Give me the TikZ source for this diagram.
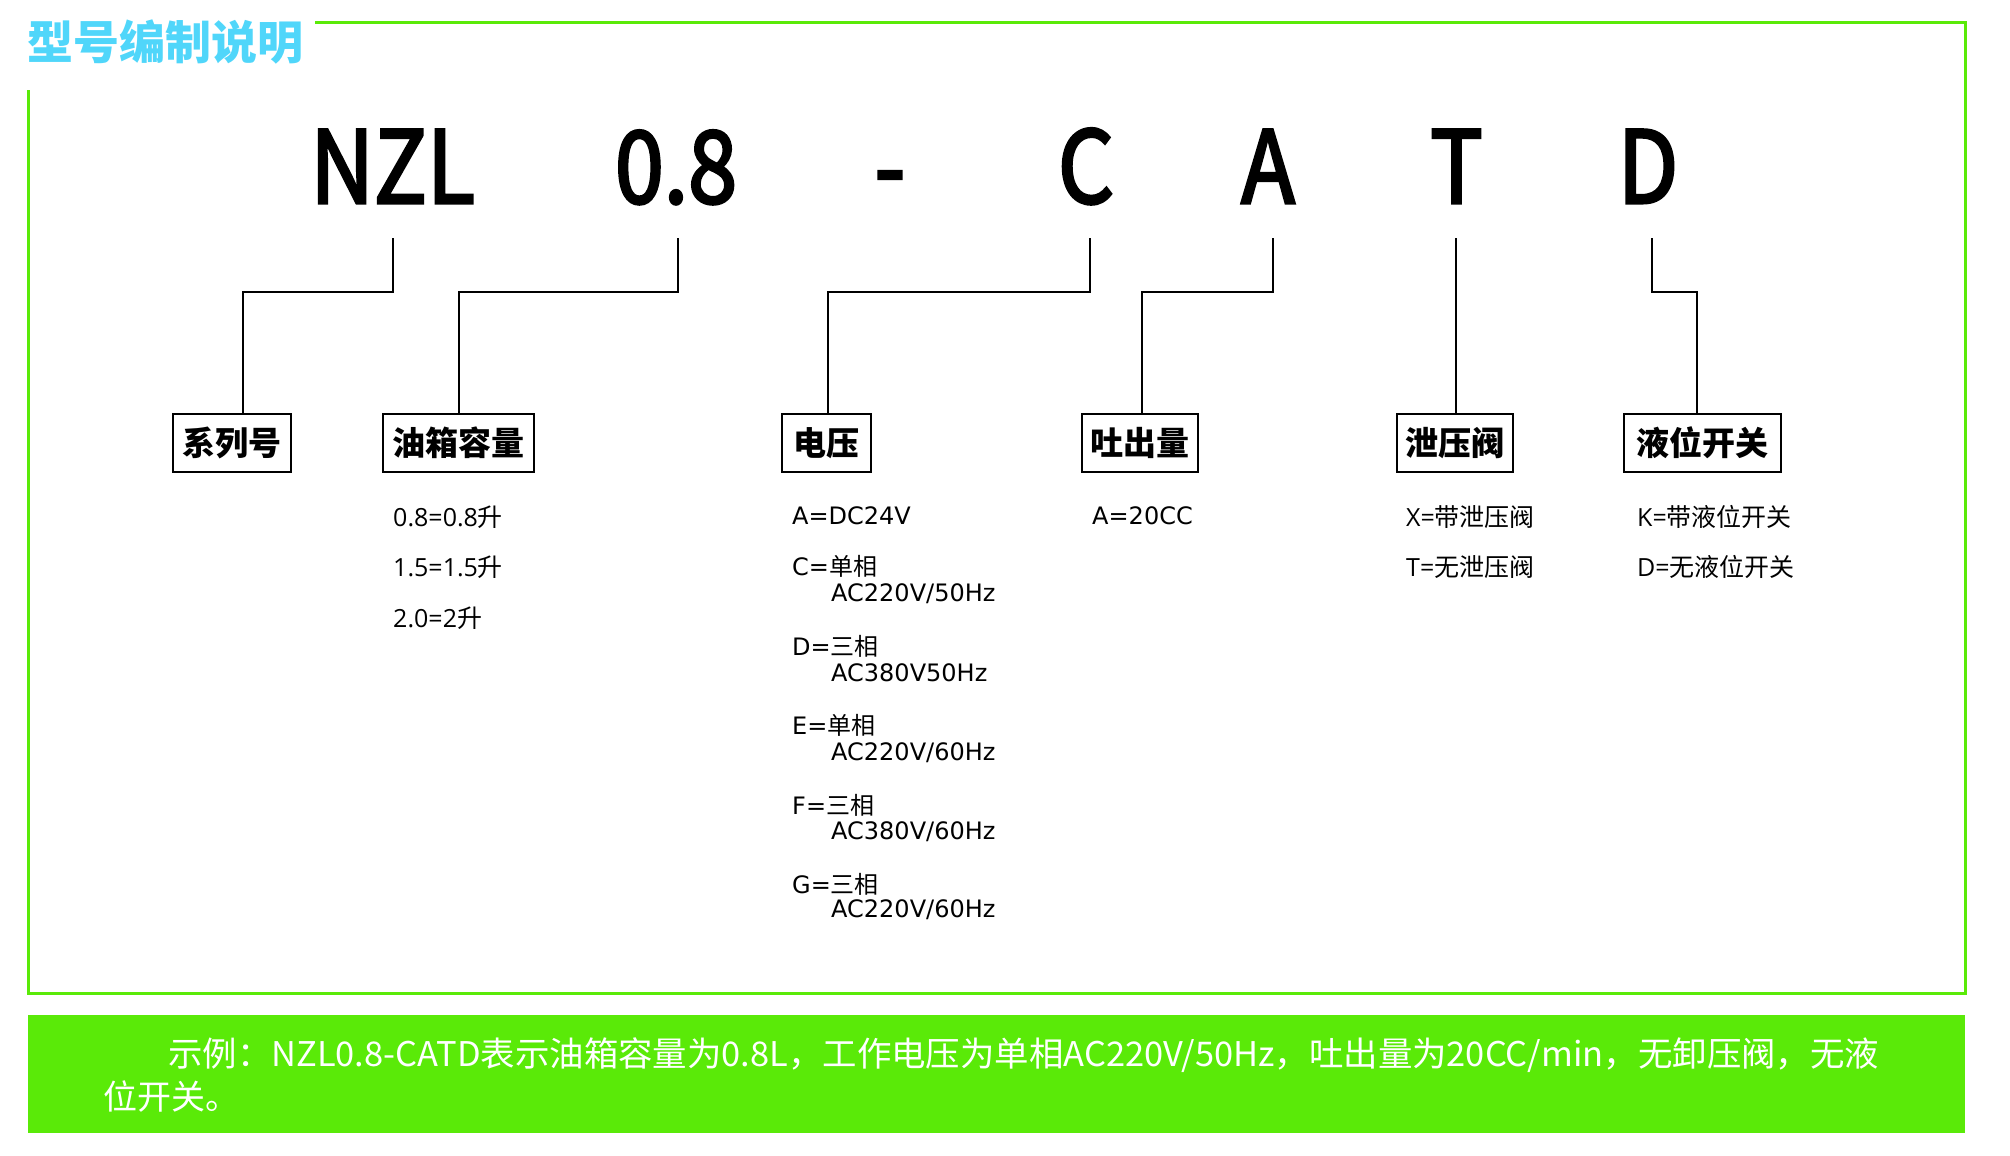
\documentclass[tikz,border=0pt]{standalone}
\usepackage{fontspec}
\setmainfont{Noto Sans CJK SC}
\newfontfamily\dv{DejaVu Sans}
\newfontfamily\os{Open Sans}
\newfontfamily\codefont[FakeBold=3]{Noto Sans CJK SC}
\usetikzlibrary{calc}
\definecolor{fgreen}{RGB}{90,234,8}
\definecolor{tcyan}{RGB}{80,214,250}
\tikzset{
  code/.style={inner sep=0pt, anchor=base, font=\codefont\fontsize{100}{100}\selectfont},
  lbl/.style={draw=black, line width=2pt, inner sep=0pt, minimum height=58pt, font=\bfseries\fontsize{33}{33}\selectfont},
  conn/.style={line width=2pt, black},
  item/.style={anchor=west, inner sep=0pt, font=\fontsize{25}{25}\selectfont},
  vitem/.style={anchor=west, inner sep=0pt, font=\fontsize{24}{24}\selectfont},
  frameline/.style={draw=fgreen, line width=3pt, line join=miter},
}
\begin{document}
\begin{tikzpicture}[x=1pt,y=-1pt]
\useasboundingbox (0,0) rectangle (2010,1156);
% frame
\draw[frameline] (315,23) -- (1965,23) -- (1965,993) -- (28,993) -- (28,90);
% title
\node[anchor=west, inner sep=0pt, text=tcyan, font=\bfseries\fontsize{46}{46}\selectfont] (title) at (27,42) {型号编制说明};
% code letters
\node[code] (nzl) at (392.5,203) {\scalebox{0.88}[1]{NZL}};
\node[code] (cap) at (676,203) {\scalebox{0.88}[1]{0.8}};
\node[code] (dash) at (890,203) {\scalebox{0.88}[1]{-}};
\node[code] (vol) at (1086,203) {\scalebox{0.88}[1]{C}};
\node[code] (flow) at (1268,203) {\scalebox{0.88}[1]{A}};
\node[code] (valve) at (1456.5,203) {\scalebox{0.88}[1]{T}};
\node[code] (level) at (1648,203) {\scalebox{0.88}[1]{D}};
% line tops
\coordinate (t1) at (393,238);
\coordinate (t2) at (678,238);
\coordinate (t3) at (1090,238);
\coordinate (t4) at (1273,238);
\coordinate (t5) at (1456,238);
\coordinate (t6) at (1652,238);
% label boxes
\node[lbl, minimum width=118pt] (b1) at (232,443) {系列号};
\node[lbl, minimum width=151pt] (b2) at (458.5,443) {油箱容量};
\node[lbl, minimum width=89pt] (b3) at (826.5,443) {电压};
\node[lbl, minimum width=116pt] (b4) at (1140,443) {吐出量};
\node[lbl, minimum width=116pt] (b5) at (1455,443) {泄压阀};
\node[lbl, minimum width=157pt] (b6) at (1702.5,443) {液位开关};
% connectors
\draw[conn] (t1) -- ++(0,54) -| ([xshift=11pt]b1.north);
\draw[conn] (t2) -- ++(0,54) -| ([xshift=0.5pt]b2.north);
\draw[conn] (t3) -- ++(0,54) -| ([xshift=1.5pt]b3.north);
\draw[conn] (t4) -- ++(0,54) -| ([xshift=2pt]b4.north);
\draw[conn] (t5) -- ([xshift=1pt]b5.north);
\draw[conn] (t6) -- ++(0,54) -| ([xshift=-5.5pt]b6.north);
% oil tank list
\node[item] (o1) at (393,517) {{\os 0.8=0.8}升};
\node[item] (o2) at (393,567) {{\os 1.5=1.5}升};
\node[item] (o3) at (393,618) {{\os 2.0=2}升};
% voltage list
\node[vitem] (v1) at (792,516) {{\dv A=DC24V}};
\node[vitem] (v2) at (792,566) {{\dv C=}单相};
\node[vitem] (v2b) at (831,594) {{\dv AC220V/50Hz}};
\node[vitem] (v3) at (792,646) {{\dv D=}三相};
\node[vitem] (v3b) at (831,673) {{\dv AC380V50Hz}};
\node[vitem] (v4) at (792,725) {{\dv E=}单相};
\node[vitem] (v4b) at (831,753) {{\dv AC220V/60Hz}};
\node[vitem] (v5) at (792,805) {{\dv F=}三相};
\node[vitem] (v5b) at (831,832) {{\dv AC380V/60Hz}};
\node[vitem] (v6) at (792,884) {{\dv G=}三相};
\node[vitem] (v6b) at (831,910) {{\dv AC220V/60Hz}};
% flow list
\node[vitem] (f1) at (1092,516) {{\dv A=20CC}};
% valve list
\node[item] (p1) at (1406,517) {{\os X=}带泄压阀};
\node[item] (p2) at (1406,567) {{\os T=}无泄压阀};
% level list
\node[item] (l1) at (1637,517) {{\os K=}带液位开关};
\node[item] (l2) at (1637,567) {{\os D=}无液位开关};
% example bar
\fill[fgreen] (28,1015) rectangle (1965,1133);
\node[anchor=west, inner sep=0pt, text=white, font=\fontsize{34}{34}\selectfont] (ex1) at (168,1055)
  {\resizebox{1711pt}{\height}{示例：NZL0.8-CATD表示油箱容量为0.8L，工作电压为单相AC220V/50Hz，吐出量为20CC/min，无卸压阀，无液}};
\node[anchor=west, inner sep=0pt, text=white, font=\fontsize{34}{34}\selectfont] (ex2) at (103,1097) {位开关。};
\end{tikzpicture}
\end{document}
